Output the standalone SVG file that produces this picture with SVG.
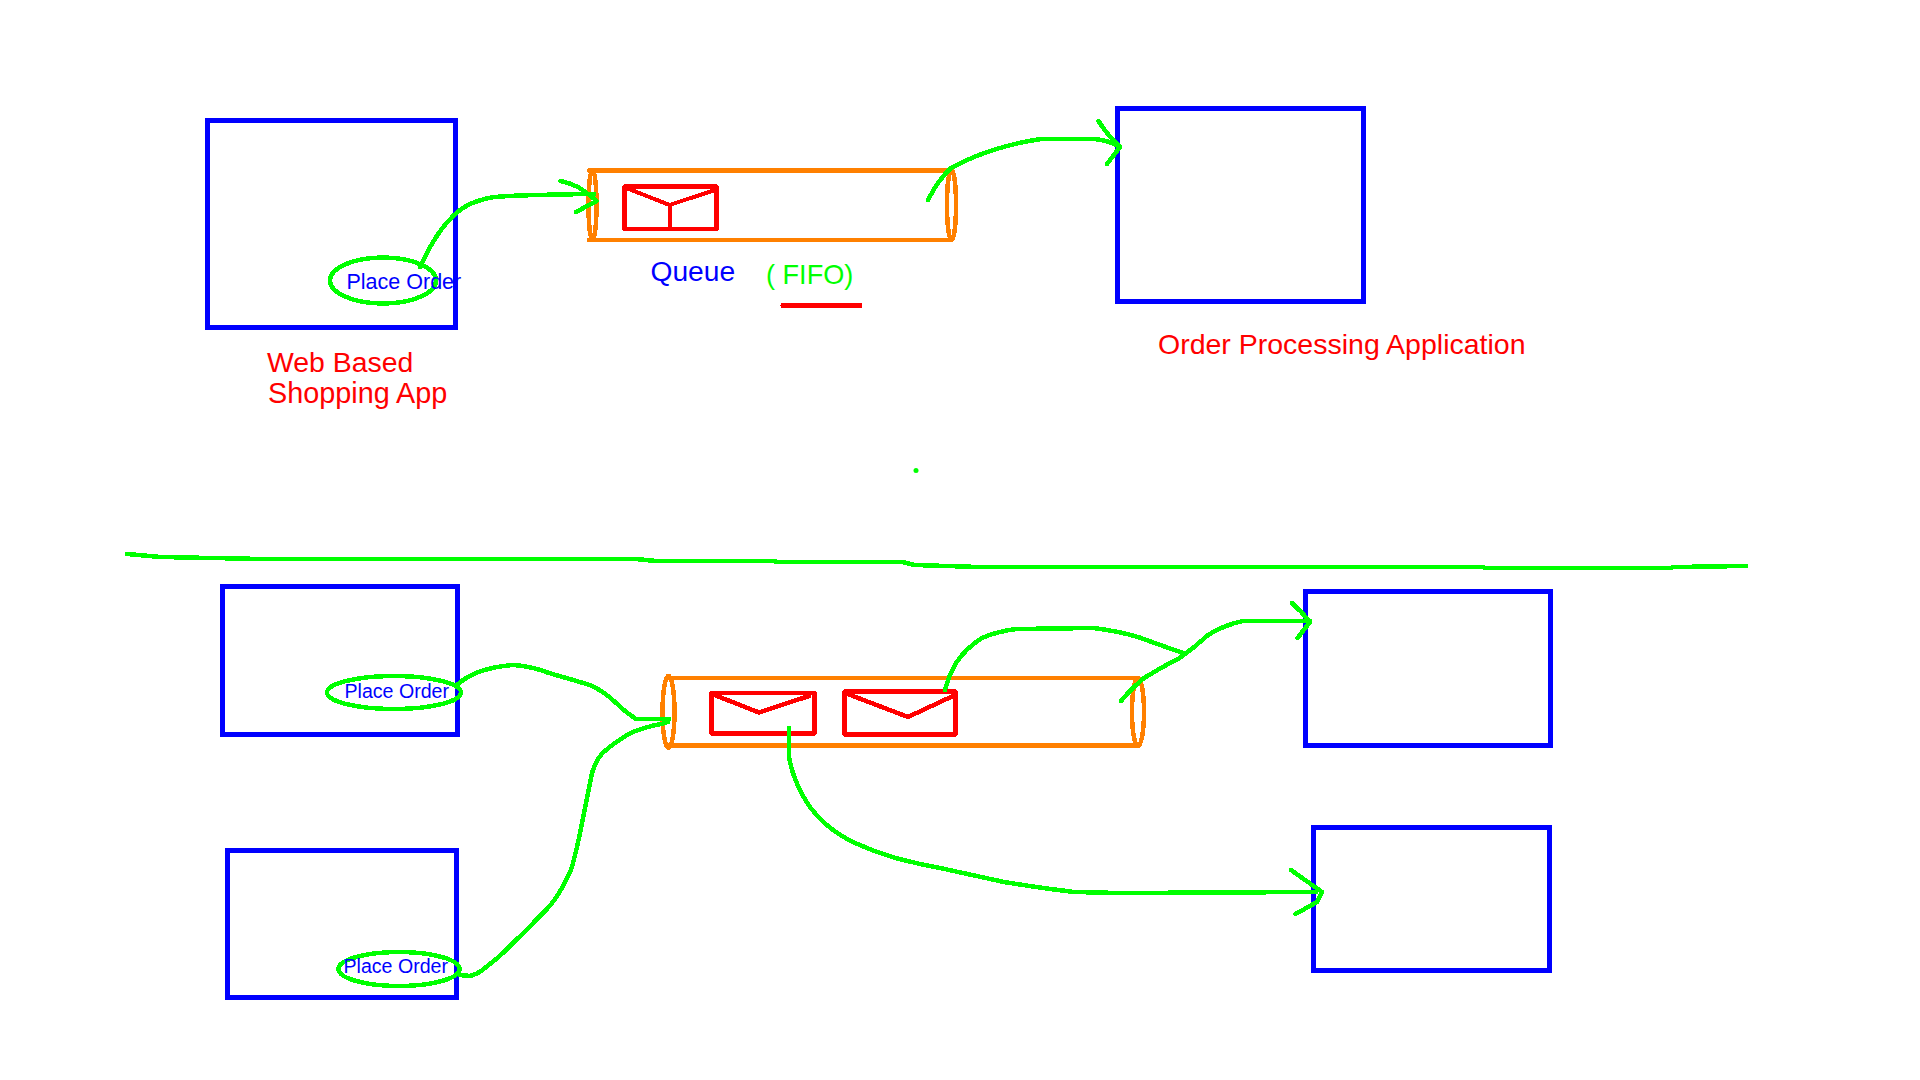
<svg xmlns="http://www.w3.org/2000/svg" width="1920" height="1080" viewBox="0 0 1920 1080">
<style>
.box{fill:none;stroke:#0000ff;stroke-width:5;shape-rendering:crispEdges}
.q{fill:none;stroke:#ff8000;stroke-width:4.5;stroke-linecap:round;shape-rendering:crispEdges}
.env{fill:none;stroke:#ff0000;stroke-width:4.5;stroke-linejoin:round;stroke-linecap:round;shape-rendering:crispEdges}
.g{fill:none;stroke:#00ff00;stroke-width:4.5;stroke-linecap:round;stroke-linejoin:round;shape-rendering:crispEdges}
.e{fill:none;stroke:#00ff00;stroke-width:4.5;shape-rendering:crispEdges}
text{font-family:"Liberation Sans",Arial,sans-serif}
.r{fill:#ff0000;font-size:28.4px}
.b{fill:#0000ff;font-size:28.2px}
.po{fill:#0000ff;font-size:19.6px}
</style>
<rect width="1920" height="1080" fill="#ffffff"/>
<g id="web-app">
<rect class="box" x="207.500" y="120.500" width="248" height="207"/>
<text class="r" x="267" y="372">Web Based</text>
<text class="r" x="268" y="403" style="font-size:28.800px">Shopping App</text>
</g>
<g id="place-order-1">
<ellipse class="e" cx="383" cy="280.500" rx="53" ry="23"/>
<text class="po" style="font-size:21.500px" x="346.500" y="289">Place Order</text>
</g>
<g id="queue-1">
<path class="q" d="M589 170.500H951M589 240H951"/>
<ellipse class="q" cx="592.500" cy="205" rx="4" ry="35"/>
<ellipse class="q" cx="951.500" cy="205" rx="4.500" ry="35"/>
<text class="b" x="650.500" y="281">Queue</text>
</g>
<g id="message-1">
<rect class="env" x="624.500" y="186.500" width="92" height="42.500"/>
<path class="env" style="stroke-width:4" d="M626.500 188L669.500 205L715 190M669.500 205V227"/>
</g>
<g id="fifo">
<text x="766" y="284" style="fill:#00ff00;font-size:27.100px">( FIFO)</text>
<path d="M783 305.500H860" style="fill:none;stroke:#ff0000;stroke-width:5;stroke-linecap:round;shape-rendering:crispEdges"/>
</g>
<g id="order-app">
<rect class="box" x="1117.500" y="108.500" width="246" height="193"/>
<text class="r" x="1158" y="354" style="font-size:28.500px">Order Processing Application</text>
</g>
<circle cx="916" cy="470.500" r="2.500" fill="#00ff00"/>
<g id="web-app-2">
<rect class="box" x="222.500" y="586.500" width="235" height="148"/>
</g>
<g id="place-order-2">
<ellipse class="e" cx="394" cy="692.500" rx="67" ry="16.500"/>
<text class="po" x="344.500" y="698">Place Order</text>
</g>
<g id="web-app-3">
<rect class="box" x="227.500" y="850.500" width="229" height="147"/>
</g>
<g id="place-order-3">
<ellipse class="e" cx="399" cy="969" rx="60.500" ry="17"/>
<text class="po" x="343.500" y="973">Place Order</text>
</g>
<g id="queue-2">
<path class="q" d="M667 678H1138M667 745.500H1138"/>
<ellipse class="q" cx="668.500" cy="712" rx="6" ry="36"/>
<ellipse class="q" cx="1138" cy="712" rx="6" ry="34"/>
</g>
<g id="message-2">
<rect class="env" x="711.500" y="693" width="103" height="40.500"/>
<path class="env" d="M712 694L759 712.500L809 696"/>
</g>
<g id="message-3">
<rect class="env" x="844.500" y="691.500" width="111" height="43"/>
<path class="env" d="M845 693L908 717L953 696"/>
</g>
<g id="consumer-1">
<rect class="box" x="1305.500" y="591.500" width="245" height="154"/>
</g>
<g id="consumer-2">
<rect class="box" x="1313.500" y="827.500" width="236" height="143"/>
</g>
<g id="connectors">
<path class="g" d="M420 267Q431 243 442.500 228Q454 213 465.500 206.500Q477 200 491.500 197.500Q506 195 594 194"/>
<path class="g" d="M560.500 181Q570 183 578 187Q590 195 596.500 201L576 212"/>
<path class="g" d="M928 200Q938 180 951 168Q975 155 1000 148Q1020 142 1041 139L1094 139Q1108 140 1120 147"/>
<path class="g" d="M1098.500 121Q1108 136 1120 147L1107 164"/>
<path class="g" d="M127 554L161 557L263 559L636 559L656 561L773 561L778.500 562L902 562L915 565L978.500 567L1482 567L1485.500 568L1670.500 568L1674 567L1746 566"/>
<path class="g" d="M457 685Q475 668 513 665Q531 666 549 673Q570 679 590 685Q605 692 615 702Q625 712 636 719L669 719"/>
<path class="g" d="M460 975L470 976Q478 974 485 968Q500 957 513 943Q527 930 539 917Q552 905 559 893Q568 878 572 867Q578 845 582 823Q587 798 592 773Q596 760 602.500 753Q615 742 630.500 733Q645 727 661 724L668 722"/>
<path class="g" d="M789 728L789 757Q792 775 801.500 793Q810 810 824.500 823Q838 835 855 843Q875 852 895.500 858Q918 864 940 868Q972 875 1004 882Q1040 888 1074 892L1119 893L1316 892"/>
<path class="g" d="M1291 870Q1305 880 1322 892L1317 902L1295.500 914"/>
<path class="g" d="M945 690Q949 675 956 663Q966 648 982 638Q998 631 1017 629L1093 628Q1118 631 1138 637Q1160 645 1183 653"/>
<path class="g" d="M1121 701Q1130 690 1144 678Q1160 668 1179.500 658Q1194 648 1208 635Q1224 625 1243 621L1310 621"/>
<path class="g" d="M1292 603Q1302 612 1310 622L1297.500 638"/>
</g>
</svg>
